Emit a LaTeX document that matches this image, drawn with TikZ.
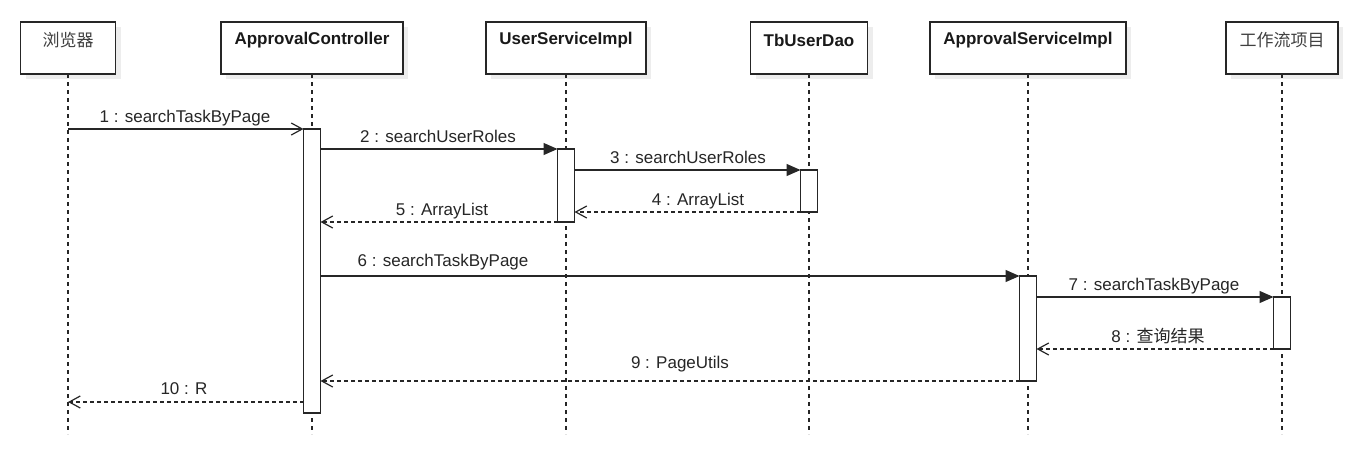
\documentclass[tikz,border=0pt]{standalone}
\usepackage{fontspec}
\setmainfont{Liberation Sans}
\newfontfamily\cjk{Noto Sans CJK SC}
\usetikzlibrary{arrows.meta,shadows}
\begin{document}
\begin{tikzpicture}[x=1pt,y=-1pt,
  head/.style={draw=black!85, line width=1.3pt, fill=white, minimum height=52pt, inner sep=0pt, outer sep=0pt,
    drop shadow={shadow xshift=5pt, shadow yshift=-5pt, fill=black!7, opacity=1}},
  htext/.style={font=\fontsize{17}{20}\selectfont\bfseries, text=black!90, inner sep=0pt},
  hcjk/.style={font=\fontsize{17}{20}\selectfont\cjk, text=black!75, inner sep=0pt},
  life/.style={draw=black!85, line width=1.2pt, dash pattern=on 4pt off 4pt},
  actbar/.style={draw=black!85, line width=1.2pt, fill=white, minimum width=17pt, inner sep=0pt, outer sep=0pt},
  callmsg/.style={draw=black!85, line width=1.2pt, -{Triangle[length=14pt,width=12pt]}},
  openmsg/.style={draw=black!85, line width=1.2pt, -{Straight Barb[length=11pt,width=12pt]}},
  retmsg/.style={draw=black!85, line width=1.2pt, dash pattern=on 4pt off 3pt, -{Straight Barb[length=11pt,width=12pt,line width=1.2pt]}},
  lbl/.style={font=\fontsize{17}{20}\selectfont, text=black!85, inner sep=0pt, anchor=base}
]
\useasboundingbox (0,0) rectangle (1360,450);
\fill[white] (0,0) rectangle (1360,450);

% header boxes
\node[head, minimum width=95pt]  (b1) at (68,48) {};
\node[head, minimum width=182pt] (b2) at (312,48) {};
\node[head, minimum width=160pt] (b3) at (566,48) {};
\node[head, minimum width=117pt] (b4) at (809,48) {};
\node[head, minimum width=196pt] (b5) at (1028,48) {};
\node[head, minimum width=112pt] (b6) at (1282,48) {};

\node[hcjk]  (t1) at (68,40) {浏览器};
\node[htext] (t2) at (312,40) {ApprovalController};
\node[htext] (t3) at (566,40) {UserServiceImpl};
\node[htext] (t4) at (809,40) {TbUserDao};
\node[htext] (t5) at (1028,40) {ApprovalServiceImpl};
\node[hcjk]  (t6) at (1282,40) {工作流项目};

% lifelines
\coordinate (e1) at (68,434);
\coordinate (e2) at (312,434);
\coordinate (e3) at (566,434);
\coordinate (e4) at (809,434);
\coordinate (e5) at (1028,434);
\coordinate (e6) at (1282,434);
\foreach \i in {1,...,6} { \draw[life] (b\i.south) -- (e\i); }

% activation bars
\node[actbar, minimum height=284pt, anchor=north] (aA) at (312,129) {};
\node[actbar, minimum height=73pt,  anchor=north] (aB) at (566,149) {};
\node[actbar, minimum height=42pt,  anchor=north] (aC) at (809,170) {};
\node[actbar, minimum height=105pt, anchor=north] (aD) at (1028,276) {};
\node[actbar, minimum height=52pt,  anchor=north] (aE) at (1282,297) {};

% messages
\coordinate (m1s) at (68,129);
\draw[openmsg] (m1s) -- (aA.north west);
\draw[callmsg] (aA.east |- aB.north) -- (aB.north west);
\draw[callmsg] (aB.east |- aC.north) -- (aC.north west);
\draw[retmsg] (aC.south west) -- (aB.east |- aC.south);
\draw[retmsg] (aB.south west) -- (aA.east |- aB.south);
\draw[callmsg] (aA.east |- aD.north) -- (aD.north west);
\draw[callmsg] (aD.east |- aE.north) -- (aE.north west);
\draw[retmsg] (aE.south west) -- (aD.east |- aE.south);
\draw[retmsg] (aD.south west) -- (aA.east |- aD.south);
\coordinate (m10s) at (303.5,402);
\coordinate (m10e) at (68,402);
\draw[retmsg] (m10s) -- (m10e);

% labels
\node[lbl] (l1) at (185,122) {1 : searchTaskByPage};
\node[lbl] (l2) at (438,142) {2 : searchUserRoles};
\node[lbl] (l3) at (688,163) {3 : searchUserRoles};
\node[lbl] (l4) at (698,205) {4 : ArrayList};
\node[lbl] (l5) at (442,215) {5 : ArrayList};
\node[lbl] (l6) at (443,266) {6 : searchTaskByPage};
\node[lbl] (l7) at (1154,290) {7 : searchTaskByPage};
\node[lbl] (l8) at (1158,342) {8 : {\cjk 查询结果}};
\node[lbl] (l9) at (680,368) {9 : PageUtils};
\node[lbl] (l10) at (184,394) {10 : R};
\end{tikzpicture}
\end{document}
